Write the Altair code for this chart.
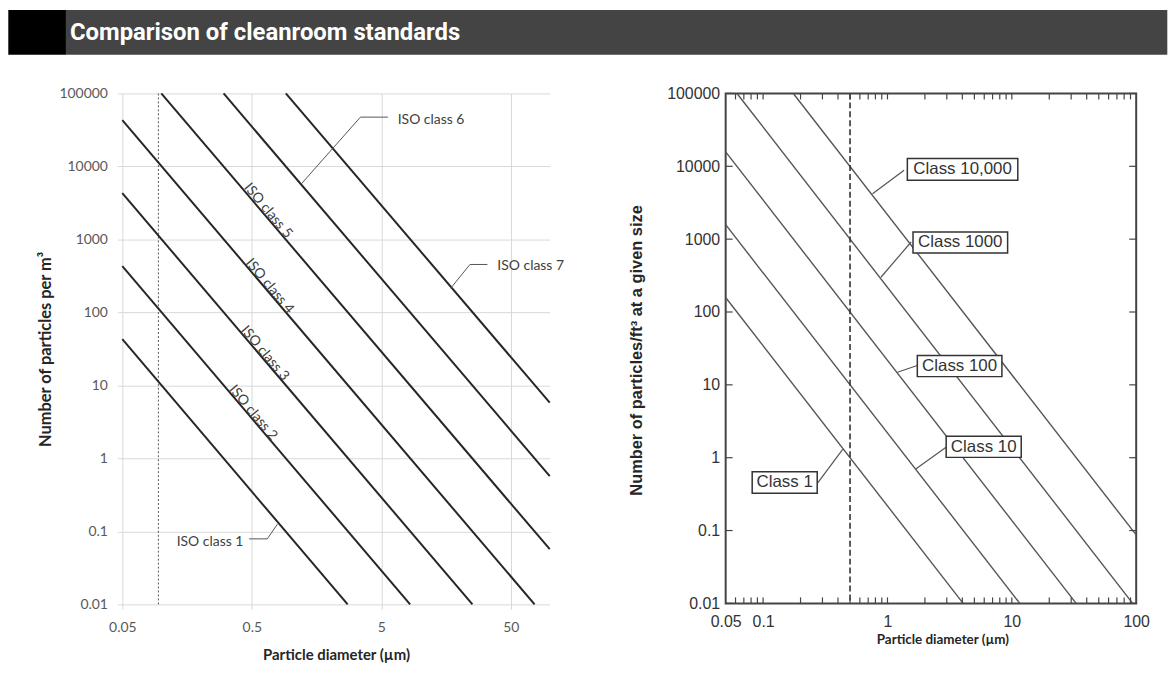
import altair as alt
import pandas as pd

TITLE = "Comparison of cleanroom standards"

# ---------------- left panel: ISO 14644-1 (particles per m^3) ----------------
iso_classes = ["ISO class 1", "ISO class 2", "ISO class 3", "ISO class 4",
               "ISO class 5", "ISO class 6", "ISO class 7"]
iso_d_start = [0.05, 0.05, 0.05, 0.05, 0.1, 0.303, 0.916]
iso_n_start = [43, 430, 4300, 43000, 100000, 100000, 100000]
iso_d_end = [2.75, 8.35, 25.3, 76.4, 100, 100, 100]
iso_n_end = [0.01, 0.01, 0.01, 0.01, 0.057, 0.57, 5.8]

iso_x_ticks = [0.05, 0.5, 5, 50]
y_ticks = [0.01, 0.1, 1, 10, 100, 1000, 10000, 100000]
iso_ref_d = [0.095]

# labels written along the lines
iso_rot_text = ["ISO class 2", "ISO class 3", "ISO class 4", "ISO class 5"]
iso_rot_d = [0.319, 0.393, 0.428, 0.416]
iso_rot_n = [8.95, 58.3, 485, 5250]

# call-out labels
iso_call_right_text = ["ISO class 6", "ISO class 7"]
iso_call_right_d = [6.7, 39.4]
iso_call_right_n = [43000, 432]
iso_call_left_text = ["ISO class 1"]
iso_call_left_d = [0.43]
iso_call_left_n = [0.0713]

# leader lines (three points each)
iso_leader_id = ["6", "6", "6", "7", "7", "7", "1", "1", "1"]
iso_leader_seq = [0, 1, 2, 0, 1, 2, 0, 1, 2]
iso_leader_d = [5.62, 3.45, 1.21, 33.0, 24.2, 17.2, 0.477, 0.659, 0.787]
iso_leader_n = [47400, 47400, 5800, 454, 454, 215, 0.079, 0.079, 0.125]

# ---------------- right panel: FED-STD-209E (particles per ft^3) ----------------
fed_classes = ["Class 1", "Class 10", "Class 100", "Class 1000", "Class 10,000"]
fed_d_start = [0.05, 0.05, 0.05, 0.0617, 0.175]
fed_n_start = [158, 1580, 15800, 100000, 100000]
fed_d_end = [4.06, 11.6, 32.9, 93.7, 100]
fed_n_end = [0.01, 0.01, 0.01, 0.01, 0.087]
fed_ref_d = [0.5]
fed_x_labels = [0.05, 0.1, 1, 10, 100]
fed_x_minor = [0.06, 0.07, 0.08, 0.09, 0.1, 0.2, 0.3, 0.4, 0.5, 0.6, 0.7, 0.8, 0.9,
               1, 2, 3, 4, 5, 6, 7, 8, 9, 10, 20, 30, 40, 50, 60, 70, 80, 90]

fed_box_d1 = [0.0817, 2.965, 1.738, 1.605, 1.445]
fed_box_d2 = [0.2723, 11.9, 8.32, 9.25, 11.17]
fed_box_n1 = [0.326, 1.01, 12.97, 646, 6440]
fed_box_n2 = [0.640, 1.963, 25.2, 1256, 12790]
fed_text_d = [0.149, 5.94, 3.80, 3.85, 4.02]
fed_text_n = [0.457, 1.41, 18.1, 901, 9100]

fed_leader_id = ["1", "1", "10", "10", "100", "100", "1000", "1000", "10000", "10000"]
fed_leader_seq = [0, 1, 0, 1, 0, 1, 0, 1, 0, 1]
fed_leader_d = [0.274, 0.4365, 2.96, 1.687, 1.738, 1.202, 1.55, 0.886, 1.36, 0.759]
fed_leader_n = [0.448, 1.3, 1.387, 0.7, 18.4, 14.9, 914, 300, 8830, 4200]

# ---------------- layout constants ----------------
LW, LH = 430, 514
RW, RH = 413, 513
FONT_L = "Lato"
FONT_R = "Liberation Sans"

x_scale = alt.Scale(type="log", domain=[0.05, 100], nice=False)
y_scale = alt.Scale(type="log", domain=[0.01, 100000], nice=False)

axis_lx = alt.Axis(values=iso_x_ticks, format="~g", grid=True, gridColor="#d9d9d9",
                   tickColor="#d9d9d9", tickSize=5, domain=False, labelFont=FONT_L,
                   labelFontSize=14, labelColor="#595959", labelPadding=11,
                   labelFlush=False, labelOverlap=False,
                   title="Particle diameter (µm)", titleFont=FONT_L, titleFontSize=15,
                   titleFontWeight="bold", titleColor="#262626", titleX=215, titleY=50,
                   titleBaseline="middle", titleAlign="center")
axis_ly = alt.Axis(values=y_ticks, format="~g", grid=True, gridColor="#d9d9d9",
                   tickColor="#d9d9d9", tickSize=5, domain=False, labelFont=FONT_L,
                   labelFontSize=14, labelColor="#595959", labelPadding=10,
                   labelOverlap=False,
                   title="Number of particles per m³", titleFont=FONT_L, titleFontSize=16.5,
                   titleFontWeight="bold", titleColor="#262626", titleX=-77.7, titleY=257,
                   titleBaseline="middle", titleAlign="center", titleAngle=270)
axis_rx = alt.Axis(values=fed_x_labels, format="~g", grid=False, ticks=False, tickSize=0,
                   domain=False, labelFont=FONT_R, labelFontSize=16, labelColor="#333333",
                   labelPadding=10, labelFlush=False, labelOverlap=False,
                   title="Particle diameter (µm)", titleFont=FONT_L, titleFontSize=13.5,
                   titleFontWeight="bold", titleColor="#262626", titleX=218, titleY=36,
                   titleBaseline="middle", titleAlign="center")
axis_ry = alt.Axis(values=y_ticks, format="~g", grid=False, ticks=False, tickSize=0,
                   domain=False, labelFont=FONT_R, labelFontSize=16, labelColor="#333333",
                   labelPadding=6, labelOverlap=False,
                   title="Number of particles/ft³ at a given size", titleFont=FONT_R,
                   titleFontSize=16.5, titleFontWeight="bold", titleColor="#262626",
                   titleX=-90, titleY=258, titleBaseline="middle", titleAlign="center",
                   titleAngle=270)


def xl(f):
    return alt.X(f"{f}:Q", scale=x_scale, axis=axis_lx)


def yl(f):
    return alt.Y(f"{f}:Q", scale=y_scale, axis=axis_ly)


def xr(f):
    return alt.X(f"{f}:Q", scale=x_scale, axis=axis_rx)


def yr(f):
    return alt.Y(f"{f}:Q", scale=y_scale, axis=axis_ry)


one = pd.DataFrame({"k": [0]})

# ---------------- header (origin shared with the left plot's origin) ----------------
HX0 = -114.7          # page x = 8
hdr = alt.Chart(pd.DataFrame({"t": [TITLE]}))
header = alt.layer(
    hdr.mark_rect(color="#000000").encode(x=alt.value(HX0), x2=alt.value(HX0 + 58),
                                         y=alt.value(0), y2=alt.value(45)),
    hdr.mark_rect(color="#444444").encode(x=alt.value(HX0 + 58), x2=alt.value(HX0 + 1166),
                                         y=alt.value(0), y2=alt.value(45)),
    hdr.mark_text(align="left", baseline="middle", color="white",
                  font="Roboto", fontWeight="bold", fontSize=24).encode(
        x=alt.value(HX0 + 62), y=alt.value(23), text="t:N"),
).properties(width=LW, height=45)

# ---------------- left chart ----------------
iso_df = pd.DataFrame({"cls": iso_classes, "d": iso_d_start, "n": iso_n_start,
                       "d2": iso_d_end, "n2": iso_n_end})
iso_lines = alt.Chart(iso_df).mark_rule(color="#262626", strokeWidth=2).encode(
    x=xl("d"), x2="d2:Q", y=yl("n"), y2="n2:Q")

iso_ref = alt.Chart(pd.DataFrame({"d": iso_ref_d})).mark_rule(
    color="#555555", strokeWidth=1, strokeDash=[2, 2]).encode(
    x=xl("d"), y=alt.value(0), y2=alt.value(LH))

rot_df = pd.DataFrame({"t": iso_rot_text, "d": iso_rot_d, "n": iso_rot_n})
iso_rot = alt.Chart(rot_df).mark_text(
    angle=50, align="left", baseline="alphabetic", dx=2, dy=-1, font=FONT_L,
    fontSize=14, color="#404040").encode(x=xl("d"), y=yl("n"), text="t:N")

cr_df = pd.DataFrame({"t": iso_call_right_text, "d": iso_call_right_d, "n": iso_call_right_n})
iso_cr = alt.Chart(cr_df).mark_text(
    align="left", baseline="middle", font=FONT_L, fontSize=14, color="#404040").encode(
    x=xl("d"), y=yl("n"), text="t:N")
cl_df = pd.DataFrame({"t": iso_call_left_text, "d": iso_call_left_d, "n": iso_call_left_n})
iso_cl = alt.Chart(cl_df).mark_text(
    align="right", baseline="middle", font=FONT_L, fontSize=14, color="#404040").encode(
    x=xl("d"), y=yl("n"), text="t:N")

ld_df = pd.DataFrame({"id": iso_leader_id, "s": iso_leader_seq,
                      "d": iso_leader_d, "n": iso_leader_n})
iso_lead = alt.Chart(ld_df).mark_line(color="#555555", strokeWidth=1).encode(
    x=xl("d"), y=yl("n"), detail="id:N", order="s:Q")

left_spacer = alt.Chart(one).mark_rule(color="white", opacity=0).encode(
    x=alt.value(-114.2), x2=alt.value(461), y=alt.value(-37.5), y2=alt.value(-37.5))

left = alt.layer(iso_ref, iso_lines, iso_lead, iso_rot, iso_cr, iso_cl,
                 left_spacer).properties(width=LW, height=LH)

# ---------------- right chart ----------------
fed_df = pd.DataFrame({"cls": fed_classes, "d": fed_d_start, "n": fed_n_start,
                       "d2": fed_d_end, "n2": fed_n_end})
fed_lines = alt.Chart(fed_df).mark_rule(color="#555555", strokeWidth=1.4).encode(
    x=xr("d"), x2="d2:Q", y=yr("n"), y2="n2:Q")

fed_ref = alt.Chart(pd.DataFrame({"d": fed_ref_d})).mark_rule(
    color="#333333", strokeWidth=1.6, strokeDash=[6, 3]).encode(
    x=xr("d"), y=alt.value(0), y2=alt.value(RH))

xt_df = pd.DataFrame({"t": fed_x_minor})
tick_bot = alt.Chart(xt_df).mark_rule(color="#444444", strokeWidth=1.2).encode(
    x=xr("t"), y=alt.value(RH), y2=alt.value(RH - 6))
tick_top = alt.Chart(xt_df).mark_rule(color="#444444", strokeWidth=1.2).encode(
    x=xr("t"), y=alt.value(0), y2=alt.value(6))
yt_df = pd.DataFrame({"v": y_ticks})
tick_left = alt.Chart(yt_df).mark_rule(color="#444444", strokeWidth=1.2).encode(
    y=yr("v"), x=alt.value(0), x2=alt.value(7))
tick_right = alt.Chart(yt_df).mark_rule(color="#444444", strokeWidth=1.2).encode(
    y=yr("v"), x=alt.value(RW - 7), x2=alt.value(RW))

fl_df = pd.DataFrame({"id": fed_leader_id, "s": fed_leader_seq,
                      "d": fed_leader_d, "n": fed_leader_n})
fed_lead = alt.Chart(fl_df).mark_line(color="#555555", strokeWidth=1.2).encode(
    x=xr("d"), y=yr("n"), detail="id:N", order="s:Q")

box_df = pd.DataFrame({"t": fed_classes, "d1": fed_box_d1, "d2": fed_box_d2,
                       "n1": fed_box_n1, "n2": fed_box_n2,
                       "td": fed_text_d, "tn": fed_text_n})
fed_box = alt.Chart(box_df).mark_rect(fill="white", stroke="#333333", strokeWidth=1.5).encode(
    x=xr("d1"), x2="d2:Q", y=yr("n1"), y2="n2:Q")
fed_txt = alt.Chart(box_df).mark_text(
    font=FONT_R, fontSize=17, color="#333333", align="center", baseline="middle").encode(
    x=xr("td"), y=yr("tn"), text="t:N")

right_spacer = alt.Chart(one).mark_rule(color="white", opacity=0).encode(
    x=alt.value(-144.5), x2=alt.value(0), y=alt.value(-37.5), y2=alt.value(-37.5))

right = alt.layer(fed_lines, fed_ref, tick_bot, tick_top, tick_left, tick_right,
                  fed_lead, fed_box, fed_txt, right_spacer).properties(
    width=RW, height=RH,
    view=alt.ViewBackground(stroke="#444444", strokeWidth=2))

row = alt.concat(left, right, columns=2, spacing=0, align="none")
chart = alt.concat(header, row, columns=1, spacing=0, align="none").properties(
    padding=0).configure_view(stroke=None)

chart.save("out.html", embed_options={"renderer": "svg", "actions": False})
